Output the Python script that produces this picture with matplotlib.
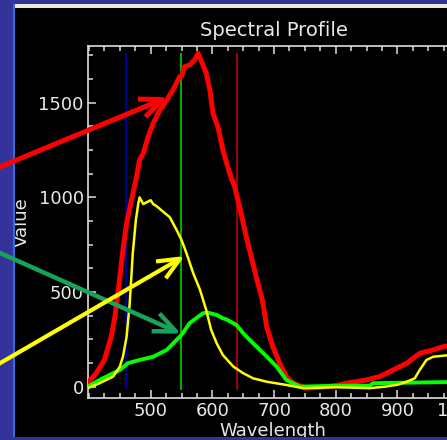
import matplotlib
matplotlib.use("Agg")
import matplotlib.pyplot as plt
from matplotlib.patches import Rectangle, ConnectionPatch
from matplotlib.ticker import MultipleLocator

plt.rcParams['font.family'] = 'DejaVu Sans'
plt.rcParams['font.size'] = 12

# ----------- DATA ------------
red_wl = [398, 412, 425, 436, 442, 447, 455, 461, 469, 477, 482, 488, 496, 504, 515,
          526, 536, 547, 550, 555, 563, 571, 577, 585, 590, 596, 601, 609, 617, 628,
          636, 644, 655, 671, 681, 688, 698, 709, 720, 731, 752, 775, 800, 817, 849,
          871, 893, 915, 936, 958, 974, 1000]
red_val = [20, 72, 141, 264, 370, 494, 722, 863, 986, 1109, 1198, 1233, 1321, 1391, 1462,
           1514, 1567, 1638, 1640, 1690, 1699, 1726, 1761, 1699, 1655, 1567, 1444, 1373, 1250, 1127,
           1057, 951, 792, 581, 458, 317, 211, 124, 53, 18, -8, -3, 5, 18, 35,
           53, 88, 124, 176, 194, 211, 225]

yellow_wl = [398, 417, 439, 450, 455, 461, 466, 471, 476, 480, 482, 488, 494, 500, 504,
             509, 520, 531, 542, 550, 558, 569, 580, 590, 598, 607, 617, 634, 650, 666,
             688, 720, 747, 800, 855, 880, 900, 915, 928, 936, 947, 958, 979, 1000]
yellow_val = [-8, 18, 53, 106, 158, 264, 440, 705, 881, 969, 1000, 965, 975, 985, 965,
              955, 925, 895, 828, 775, 705, 599, 511, 405, 300, 229, 167, 106, 71, 44,
              26, 9, -8, -3, -8, 0, 10, 26, 44, 88, 141, 158, 165, 170]

green_wl = [398, 417, 439, 450, 463, 482, 504, 526, 542, 550, 563, 577, 585, 593, 607,
            617, 623, 639, 650, 661, 680, 704, 720, 742, 800, 855, 860, 892, 979, 1000]
green_val = [0, 35, 71, 88, 124, 141, 158, 194, 247, 273, 335, 370, 388, 391, 379,
             361, 355, 326, 282, 245, 185, 106, 35, 0, 5, 5, 18, 20, 24, 25]

x_ticks = [500, 600, 700, 800, 900, 1000]
y_ticks = [0, 500, 1000, 1500]

band_wl = [460, 549, 640]
band_colors = ['#0000c8', '#00e000', '#d00000']

# arrows: start (figure fraction) -> tip (data)
arrow_start = [(-0.011, 0.616), (-0.011, 0.430), (-0.011, 0.168)]
arrow_tip = [(528, 1530), (549, 280), (555, 690)]
arrow_colors = ['#ff0000', '#17a35a', '#ffff00']
arrow_widths = [3.6, 3.2, 3.0]

# ----------- FIGURE ------------
fig = plt.figure(figsize=(4.47, 4.40), dpi=100, facecolor='black')
ax = fig.add_axes([88 / 447, 42 / 440, 402 / 447, 352 / 440])
ax.set_facecolor('black')

ax.plot(red_wl, red_val, color='#ff0000', lw=3.6, zorder=3)
ax.plot(green_wl, green_val, color='#00ff00', lw=2.8, zorder=4)
ax.plot(yellow_wl, yellow_val, color='#ffff00', lw=1.8, zorder=5)

lo = min(min(red_val), min(yellow_val), min(green_val)) - 10
hi = max(max(red_val), max(yellow_val), max(green_val))
ax.vlines(band_wl, lo, hi, colors=band_colors, lw=1.1, zorder=2)

ax.set_xlim(398.4, 1050)
ax.set_ylim(-60, 1800)
ax.set_xticks(x_ticks)
ax.set_yticks(y_ticks)
ax.xaxis.set_minor_locator(MultipleLocator(25))
ax.yaxis.set_minor_locator(MultipleLocator(125))
ax.tick_params(which='both', direction='in', top=True, right=True,
               colors='#dcdcdc', labelcolor='#e8e8e8', width=1.1)
ax.tick_params(which='major', length=6, labelsize=13, pad=3)
ax.tick_params(which='minor', length=3.5)
for s in ax.spines.values():
    s.set_color('#dcdcdc')
    s.set_linewidth(1.2)

ax.set_xlabel('Wavelength', color='#e8e8e8', fontsize=13)
ax.set_ylabel('Value', color='#e8e8e8', fontsize=13)
ax.xaxis.set_label_coords(0.46, -0.068)
ax.yaxis.set_label_coords(-0.143, 0.5)

fig.text(274 / 447, 1 - 31 / 440, 'Spectral Profile', color='#e8e8e8',
         fontsize=14, ha='center', va='center')

# ----------- SLIDE BORDER ------------
W, H = 447, 440
border = [
    ((0, 0), 13, H, '#333399'),
    ((13, 3), 2, H - 7, '#2f6fe0'),
    ((0, H - 4), W, 4, '#333399'),
    ((15, H - 8), W, 4, '#ece9d8'),
    ((0, 0), W, 3, '#333399'),
]
for (x0, y0), w, h, c in border:
    fig.add_artist(Rectangle((x0 / W, y0 / H), w / W, h / H, transform=fig.transFigure,
                             facecolor=c, edgecolor='none', zorder=10))

# ----------- ARROWS ------------
for start, tip, c, lw in zip(arrow_start, arrow_tip, arrow_colors, arrow_widths):
    cp = ConnectionPatch(xyA=start, coordsA='figure fraction', xyB=tip, coordsB=ax.transData,
                         arrowstyle='->,head_length=0.8,head_width=0.35', mutation_scale=20,
                         color=c, lw=lw, zorder=20, capstyle='butt')
    fig.add_artist(cp)

fig.savefig('out.png', dpi=100, facecolor=fig.get_facecolor())
